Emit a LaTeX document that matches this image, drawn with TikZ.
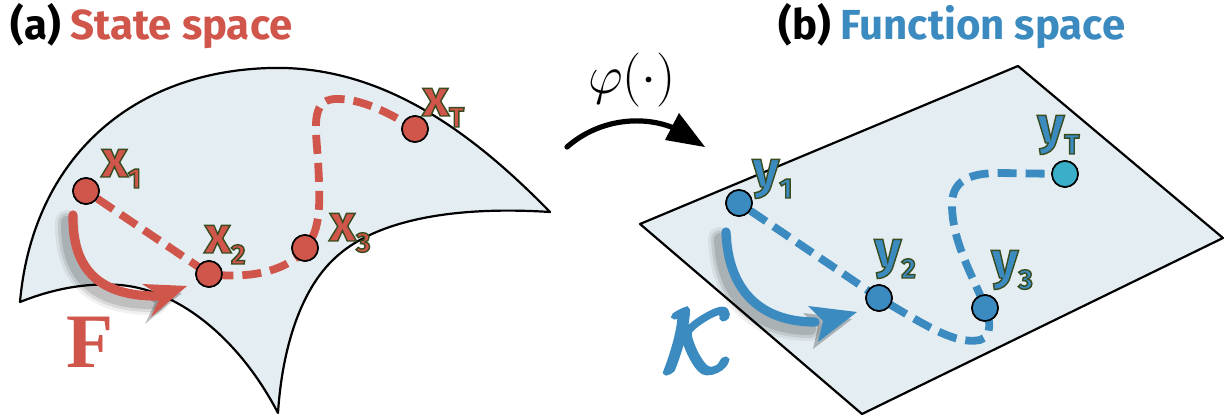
\RequirePackage{fix-cm}
\documentclass[tikz,border=0pt]{standalone}
\usepackage{fontspec}
\setmainfont{Fira Sans}
\newfontfamily\serifbf{Liberation Serif}
\usetikzlibrary{arrows.meta}
\definecolor{sred}{RGB}{208,85,74}
\definecolor{fblue}{RGB}{60,139,192}
\definecolor{surf}{RGB}{228,237,242}
\definecolor{tcyan}{RGB}{58,175,201}
\newcommand\outl[1]{\special{pdf:literal direct 0.22 0.3 0.12 RG 0.7 w 2 Tr}#1\special{pdf:literal direct 0 Tr}}
\newcommand\thick[2]{\special{pdf:literal direct #1 w 2 Tr}#2\special{pdf:literal direct 0 Tr}}
\newcommand\sublbl[1]{\raisebox{-5.5pt}{\fontsize{14}{14}\selectfont #1}}
\tikzset{
  surface/.style={fill=surf, draw=black, line width=1.1pt, line join=round},
  dotnode/.style={circle, draw=black, line width=0.8pt, minimum size=13pt, inner sep=0pt},
  rdot/.style={dotnode, fill=sred},
  bdot/.style={dotnode, fill=fblue},
  traj/.style={line width=3.9pt, dash pattern=on 9.5pt off 4.5pt},
  lbl/.style={anchor=base west, inner sep=0pt, font=\fontsize{26}{26}\selectfont\bfseries},
  ttl/.style={anchor=base west, inner sep=0pt, font=\fontsize{21}{21}\selectfont\bfseries},
  bigarrow/.style={line width=4.6pt},
}
\begin{document}
\begin{tikzpicture}[x=0.5pt,y=-0.5pt]
\useasboundingbox (0,0) rectangle (1226,416);

% ---------- left surface
\path[surface] (20,302) .. controls (32,165) and (125,72) .. (270,68)
  .. controls (380,65) and (470,130) .. (550,212)
  .. controls (440,205) and (370,225) .. (335,258)
  .. controls (300,290) and (282,350) .. (278,413)
  .. controls (240,340) and (180,290) .. (120,285)
  .. controls (80,282) and (45,292) .. (20,302) -- cycle;

% ---------- right plane
\path[surface] (640,224) -- (1018,66) -- (1223,238) -- (862,414) -- cycle;

% ---------- dots
\node[rdot] (x1) at (86,191) {};
\node[rdot] (x2) at (209,274) {};
\node[rdot] (x3) at (305,248) {};
\node[rdot] (xT) at (415,129) {};
\node[bdot] (y1) at (739,203) {};
\node[bdot] (y2) at (879,298) {};
\node[bdot] (y3) at (985,308) {};
\node[dotnode, fill=tcyan] (yT) at (1065,174) {};

% ---------- trajectories
\draw[traj, sred] (x1) -- (x2.center)
  .. controls (255,280) and (292,268) .. (x3.center)
  .. controls (322,230) and (320,200) .. (318,160)
  .. controls (316,130) and (310,100) .. (335,99)
  .. controls (360,98) and (390,113) .. (xT.center);
\draw[traj, fblue] (y1) -- (y2.center)
  .. controls (925,325) and (955,345) .. (980,340)
  .. controls (993,336) and (990,318) .. (y3.center)
  .. controls (978,285) and (952,245) .. (952,205)
  .. controls (952,180) and (970,173) .. (1000,173) -- (yT.center);

% redraw dots on top
\node[rdot] at (x1) {};
\node[rdot] at (x2) {};
\node[rdot] at (x3) {};
\node[rdot] at (xT) {};
\node[bdot] at (y1) {};
\node[bdot] at (y2) {};
\node[bdot] at (y3) {};
\node[dotnode, fill=tcyan] at (yT) {};

% ---------- F arrow (with soft shadow)
\coordinate (fs) at (73,215);
\coordinate (fe) at (160,296);
\coordinate (ft) at (187,286);
\foreach \w/\o in {12/0.06,9/0.09,6/0.12}{
  \draw[line width=\w pt, black, opacity=\o, line cap=round]
    ([shift={(-6,7)}]fs) .. controls (66,277) and (95,304) .. ([shift={(-5,7)}]fe);
  \fill[black, opacity=\o] (182,293) -- (137,291) -- (155,303) -- (145,324) -- cycle;
}
\draw[bigarrow, sred, line cap=round] (fs) .. controls (72,270) and (100,297) .. (fe);
\fill[sred] (ft) -- (142,284) -- (161,296) -- (151,317) -- cycle;

% ---------- K arrow (with soft shadow)
\coordinate (ks) at (726,232);
\coordinate (ke) at (815,322);
\coordinate (kt) at (857,312);
\foreach \w/\o in {12/0.06,9/0.09,6/0.12}{
  \draw[line width=\w pt, black, opacity=\o, line cap=round]
    ([shift={(-6,7)}]ks) .. controls (722,297) and (755,329) .. ([shift={(-5,7)}]ke);
  \fill[black, opacity=\o] (852,319) -- (803,313) -- (818,327) -- (813,349) -- cycle;
}
\draw[bigarrow, fblue, line cap=round] (ks) .. controls (728,290) and (760,322) .. (ke);
\fill[fblue] (kt) -- (808,306) -- (823,321) -- (818,342) -- cycle;

% ---------- phi arrow
\coordinate (ps) at (567,147);
\coordinate (pe) at (676,129);
\draw[line width=2.6pt, line cap=round] (ps) .. controls (600,118) and (645,115) .. (pe);
\fill (705,147) -- (679,113) -- (665,140) -- cycle;
\node (phi) at (632,80) {\fontsize{27}{27}\selectfont$\varphi(\cdot)$};

% ---------- big letters
\node[anchor=base west, inner sep=0pt, text=sred] (F) at (66,368)
  {\fontsize{38.5}{38.5}\selectfont\serifbf\bfseries F};
\node[inner sep=0pt, text=fblue] (K) at (697,341)
  {\fontsize{44}{44}\selectfont\thick{2.4}{$\mathcal{K}$}};

% ---------- labels
\node[lbl, text=sred] (lx1) at (101,177) {\outl{x\sublbl{1}}};
\node[lbl, text=sred] (lx2) at (204,253) {\outl{x\sublbl{2}}};
\node[lbl, text=sred] (lx3) at (329,241) {\outl{x\sublbl{3}}};
\node[lbl, text=sred] (lxT) at (422,116) {\outl{x\sublbl{T}}};
\node[lbl, text=fblue] (ly1) at (752,187) {\outl{y\sublbl{1}}};
\node[lbl, text=fblue] (ly2) at (874,267) {\outl{y\sublbl{2}}};
\node[lbl, text=fblue] (ly3) at (991,278) {\outl{y\sublbl{3}}};
\node[lbl, text=fblue] (lyT) at (1037,143) {\outl{y\sublbl{T}}};

% ---------- titles
\node[ttl] (ta) at (10,40) {(a) \textcolor{sred}{State space}};
\node[ttl] (tb) at (778,40) {(b) \textcolor{fblue}{Function space}};
\end{tikzpicture}
\end{document}
